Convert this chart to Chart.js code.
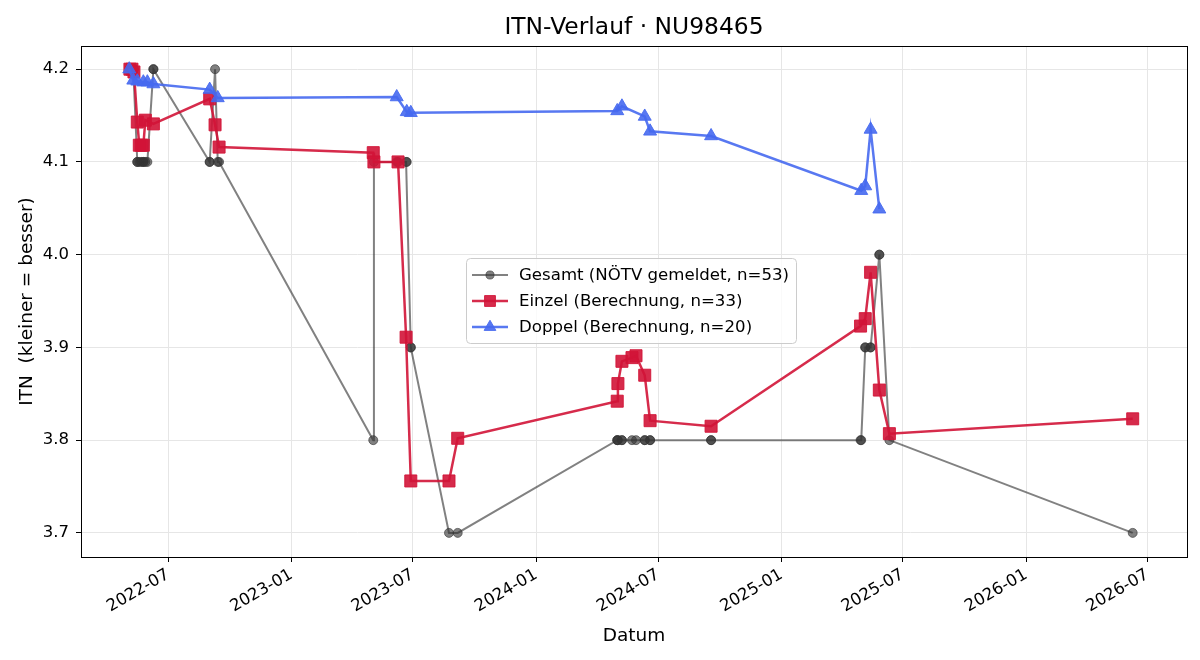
<!DOCTYPE html>
<html>
<head>
<meta charset="utf-8">
<title>ITN-Verlauf</title>
<script src="https://cdn.jsdelivr.net/npm/chart.js@4.4.1/dist/chart.umd.min.js"></script>
<style>
  html, body { margin: 0; padding: 0; background: #fff; }
</style>
</head>
<body>
<canvas id="itn-chart" width="1200" height="660"></canvas>
<script>
// ITN history, values
var gesamtDates = [
  '2022-05-04','2022-05-05','2022-05-08','2022-05-10','2022-05-11','2022-05-16','2022-05-16','2022-05-19',
  '2022-05-22','2022-05-25','2022-05-25','2022-05-28','2022-05-31','2022-06-09','2022-06-09',
  '2022-09-01','2022-09-01','2022-09-09','2022-09-13','2022-09-15',
  '2023-05-03','2023-05-04','2023-06-07','2023-06-09','2023-06-21','2023-06-22','2023-06-28','2023-06-28',
  '2023-08-24','2023-09-06',
  '2024-05-01','2024-05-01','2024-05-02','2024-05-08','2024-05-08','2024-05-23','2024-05-29',
  '2024-06-11','2024-06-11','2024-06-19','2024-06-19','2024-09-18','2024-09-18',
  '2025-04-29','2025-04-30','2025-05-06','2025-05-06','2025-05-14','2025-05-14','2025-05-27','2025-05-27',
  '2025-06-11','2026-06-09'
];
var gesamtValues = [
  4.2, 4.2, 4.2, 4.2, 4.2, 4.1, 4.1, 4.1,
  4.1, 4.1, 4.1, 4.1, 4.1, 4.2, 4.2,
  4.1, 4.1, 4.2, 4.1, 4.1,
  3.8, 4.1, 4.1, 4.1, 4.1, 4.1, 3.9, 3.9,
  3.7, 3.7,
  3.8, 3.8, 3.8, 3.8, 3.8, 3.8, 3.8,
  3.8, 3.8, 3.8, 3.8, 3.8, 3.8,
  3.8, 3.8, 3.9, 3.9, 3.9, 3.9, 4.0, 4.0,
  3.8, 3.7
];

var einzelDates = [
  '2022-05-05','2022-05-08','2022-05-11','2022-05-16','2022-05-19','2022-05-22','2022-05-25','2022-05-28','2022-06-09',
  '2022-09-01','2022-09-09','2022-09-15',
  '2023-05-03','2023-05-04','2023-06-09','2023-06-21','2023-06-28','2023-08-24','2023-09-06',
  '2024-05-01','2024-05-02','2024-05-08','2024-05-23','2024-05-29','2024-06-11','2024-06-19','2024-09-18',
  '2025-04-29','2025-05-06','2025-05-14','2025-05-27','2025-06-11',
  '2026-06-09'
];
var einzelValues = [
  4.200, 4.200, 4.197, 4.143, 4.118, 4.118, 4.118, 4.145, 4.141,
  4.168, 4.140, 4.116,
  4.110, 4.100, 4.100, 3.911, 3.756, 3.756, 3.802,
  3.842, 3.861, 3.885, 3.889, 3.891, 3.870, 3.821, 3.815,
  3.923, 3.931, 3.981, 3.854, 3.807,
  3.823
];

var doppelDates = [
  '2022-05-04','2022-05-10','2022-05-16','2022-05-25','2022-05-31','2022-06-09',
  '2022-09-01','2022-09-13',
  '2023-06-07','2023-06-22','2023-06-28',
  '2024-05-01','2024-05-08','2024-06-11','2024-06-19','2024-09-18',
  '2025-04-30','2025-05-06','2025-05-14','2025-05-27'
];
var doppelValues = [
  4.200, 4.188, 4.187, 4.186, 4.186, 4.184,
  4.178, 4.169,
  4.170, 4.154, 4.153,
  4.155, 4.160, 4.149, 4.133, 4.128,
  4.069, 4.074, 4.135, 4.049
];

var xTickDates = ['2022-07-01','2023-01-01','2023-07-01','2024-01-01','2024-07-01','2025-01-01','2025-07-01','2026-01-01','2026-07-01'];
var xTickLabels = ['2022-07','2023-01','2023-07','2024-01','2024-07','2025-01','2025-07','2026-01','2026-07'];
var yTicks = [3.7, 3.8, 3.9, 4.0, 4.1, 4.2];

function ts(d) { return new Date(d + 'T00:00:00Z').getTime(); }
function points(dates, vals) {
  var out = [];
  for (var i in dates) out.push({ x: ts(dates[i]), y: vals[i] });
  return out;
}

var FONT = '"DejaVu Sans", sans-serif';

// title centred over the plot area, black frame round it
var frame = {
  id: 'frame',
  afterDatasetsDraw: function(chart) {
    var a = chart.chartArea, ctx = chart.ctx;
    ctx.save();
    ctx.strokeStyle = '#000';
    ctx.lineWidth = 1;
    ctx.strokeRect(Math.round(a.left) + 0.5, Math.round(a.top) + 0.5,
      Math.round(a.right - a.left), Math.round(a.bottom - a.top));
    ctx.fillStyle = '#000';
    ctx.font = '23.4px ' + FONT;
    ctx.textAlign = 'center';
    ctx.textBaseline = 'middle';
    ctx.fillText('ITN-Verlauf · NU98465', (a.left + a.right) / 2, 28);
    ctx.restore();
  }
};

// legend box in the middle of the plot (like matplotlib loc='best')
var legendBox = {
  id: 'legendBox',
  afterDraw: function(chart) {
    var ctx = chart.ctx;
    var x = 466, y = 258, w = 330, h = 85;
    ctx.save();
    ctx.fillStyle = 'rgba(255,255,255,0.8)';
    ctx.strokeStyle = '#cccccc';
    ctx.lineWidth = 1;
    ctx.beginPath();
    ctx.roundRect(x + 0.5, y + 0.5, w, h, 4);
    ctx.fill();
    ctx.stroke();
    chart.data.datasets.forEach(function(ds, i) {
      var cy = y + 17 + i * 26;
      ctx.strokeStyle = ds.borderColor;
      ctx.lineWidth = ds.borderWidth;
      ctx.beginPath();
      ctx.moveTo(x + 6, cy);
      ctx.lineTo(x + 42, cy);
      ctx.stroke();
      ctx.fillStyle = ds.pointBackgroundColor;
      ctx.strokeStyle = ds.pointBorderColor;
      ctx.lineWidth = 1;
      Chart.helpers.drawPoint(ctx, { pointStyle: ds.pointStyle, radius: ds.pointRadius * 0.9, rotation: 0, borderWidth: 1 }, x + 24, cy);
      ctx.fillStyle = '#000';
      ctx.font = '16.6px ' + FONT;
      ctx.textBaseline = 'middle';
      ctx.textAlign = 'left';
      ctx.fillText(ds.label, x + 53, cy + 1);
    });
    ctx.restore();
  }
};

new Chart(document.getElementById('itn-chart'), {
  type: 'line',
  data: {
    datasets: [
      {
        label: 'Gesamt (NÖTV gemeldet, n=53)',
        data: points(gesamtDates, gesamtValues),
        borderColor: 'rgba(51,51,51,0.62)',
        borderWidth: 2,
        pointStyle: 'circle',
        pointRadius: 4.5,
        pointBackgroundColor: 'rgba(51,51,51,0.62)',
        pointBorderColor: 'rgba(51,51,51,0.62)',
        pointBorderWidth: 1,
        order: 3
      },
      {
        label: 'Einzel (Berechnung, n=33)',
        data: points(einzelDates, einzelValues),
        borderColor: 'rgba(210,20,55,0.9)',
        borderWidth: 2.5,
        pointStyle: 'rect',
        pointRadius: 8.5,
        pointBackgroundColor: 'rgba(210,20,55,0.9)',
        pointBorderColor: 'rgba(210,20,55,0.9)',
        pointBorderWidth: 1,
        order: 2
      },
      {
        label: 'Doppel (Berechnung, n=20)',
        data: points(doppelDates, doppelValues),
        borderColor: 'rgba(70,105,240,0.9)',
        borderWidth: 2.5,
        pointStyle: 'triangle',
        pointRadius: 7.5,
        pointBackgroundColor: 'rgba(70,105,240,0.9)',
        pointBorderColor: 'rgba(70,105,240,0.9)',
        pointBorderWidth: 1,
        order: 1
      }
    ]
  },
  options: {
    responsive: false,
    animation: false,
    layout: { padding: { left: 0, right: 13, top: 46, bottom: 0 } },
    elements: { line: { tension: 0 } },
    plugins: {
      legend: { display: false },
      tooltip: { enabled: false },
      title: { display: false }
    },
    scales: {
      x: {
        type: 'linear',
        min: ts('2022-02-21'),
        max: ts('2026-08-29'),
        afterBuildTicks: function(scale) {
          scale.ticks = xTickDates.map(function(d) { return { value: ts(d) }; });
        },
        afterFit: function(scale) { scale.height = 103; },
        grid: { color: '#e6e6e6', lineWidth: 1, tickColor: '#000', tickLength: 5 },
        border: { display: false },
        ticks: {
          autoSkip: false,
          minRotation: 30,
          maxRotation: 30,
          padding: 3,
          color: '#000',
          font: { family: FONT, size: 16.5 },
          callback: function(v, i) { return xTickLabels[i]; }
        },
        title: {
          display: true,
          text: 'Datum',
          color: '#000',
          font: { family: FONT, size: 18.5 },
          padding: { top: 4, bottom: 13 }
        }
      },
      y: {
        min: 3.674,
        max: 4.225,
        afterBuildTicks: function(scale) {
          scale.ticks = yTicks.map(function(v) { return { value: v }; });
        },
        afterFit: function(scale) { scale.width = 81; },
        grid: { color: '#e6e6e6', lineWidth: 1, tickColor: '#000', tickLength: 5 },
        border: { display: false },
        ticks: {
          padding: 7,
          color: '#000',
          font: { family: FONT, size: 16.5 },
          callback: function(v) { return v.toFixed(1); }
        },
        title: {
          display: true,
          text: 'ITN  (kleiner = besser)',
          color: '#000',
          font: { family: FONT, size: 18.5 },
          padding: { top: 16, bottom: 4 }
        }
      }
    }
  },
  plugins: [frame, legendBox]
});
</script>
</body>
</html>
